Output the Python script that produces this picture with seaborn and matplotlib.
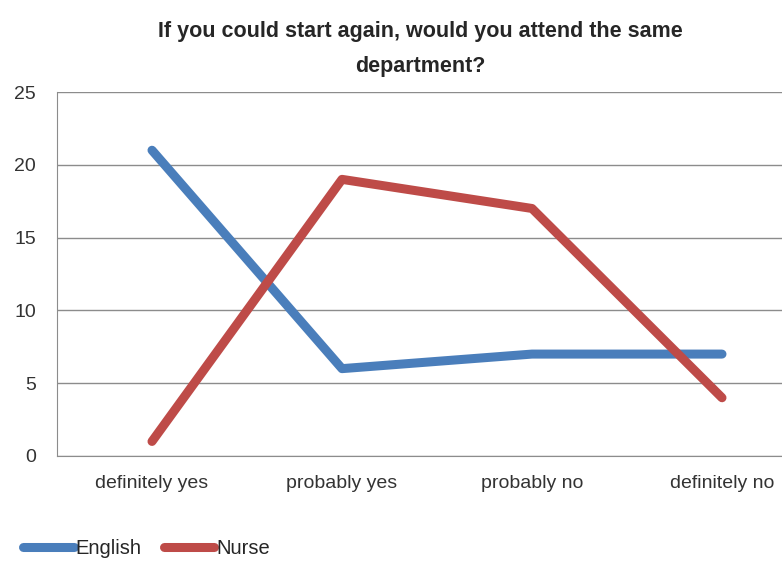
import pandas as pd
import matplotlib.pyplot as plt
import seaborn as sns

# survey answers per department
categories = ["definitely yes", "probably yes", "probably no", "definitely no"]
english = [21, 6, 7, 7]
nurse = [1, 19, 17, 4]

df = pd.DataFrame({
    "answer": categories * 2,
    "count": english + nurse,
    "group": ["English"] * 4 + ["Nurse"] * 4,
})

sns.set_style("white")
plt.rcParams['font.family'] = ['Liberation Sans', 'DejaVu Sans']

fig = plt.figure(figsize=(7.82, 5.61), dpi=100)
ax = fig.add_axes([57 / 782, 105 / 561, 760 / 782, 364 / 561])

sns.lineplot(data=df, x="answer", y="count", hue="group", sort=False,
             palette={"English": "#4A7EBB", "Nurse": "#BE4B48"},
             linewidth=6.5, solid_capstyle="round", ax=ax)

ax.set_xlim(-0.5, 3.5)
ax.set_ylim(0, 25)
ax.set_yticks(range(0, 26, 5))
ax.set_xticks(range(4))
ax.set_xticklabels(categories, fontsize=14, color="#333333")
ax.set_xticks([-0.5, 0.5, 1.5, 2.5, 3.5], minor=True)
ax.tick_params(axis="x", which="major", length=0, pad=14)
ax.tick_params(axis="x", which="minor", length=5, color="#888888", direction="out")
ax.tick_params(axis="y", length=5, color="#888888", direction="out", labelsize=14,
               labelcolor="#333333", pad=10)
ax.yaxis.grid(True, color="#8c8c8c", linewidth=1)
ax.set_xlabel("")
ax.set_ylabel("")
for s in ["top", "right"]:
    ax.spines[s].set_visible(False)
for s in ["left", "bottom"]:
    ax.spines[s].set_color("#8c8c8c")

ax.get_legend().remove()
handles, labels = ax.get_legend_handles_labels()
fig.legend(handles, labels, loc="center left", bbox_to_anchor=(0.03, 0.022),
           ncol=2, frameon=False, fontsize=14.5, handlelength=2.5, handletextpad=0.1,
           columnspacing=1.1, borderpad=0, borderaxespad=0)

fig.text(0.537, 0.913, "If you could start again, would you attend the same\ndepartment?",
         ha="center", va="center", fontsize=15.5, fontweight="bold", linespacing=1.9)

fig.savefig("out.png", dpi=100)
